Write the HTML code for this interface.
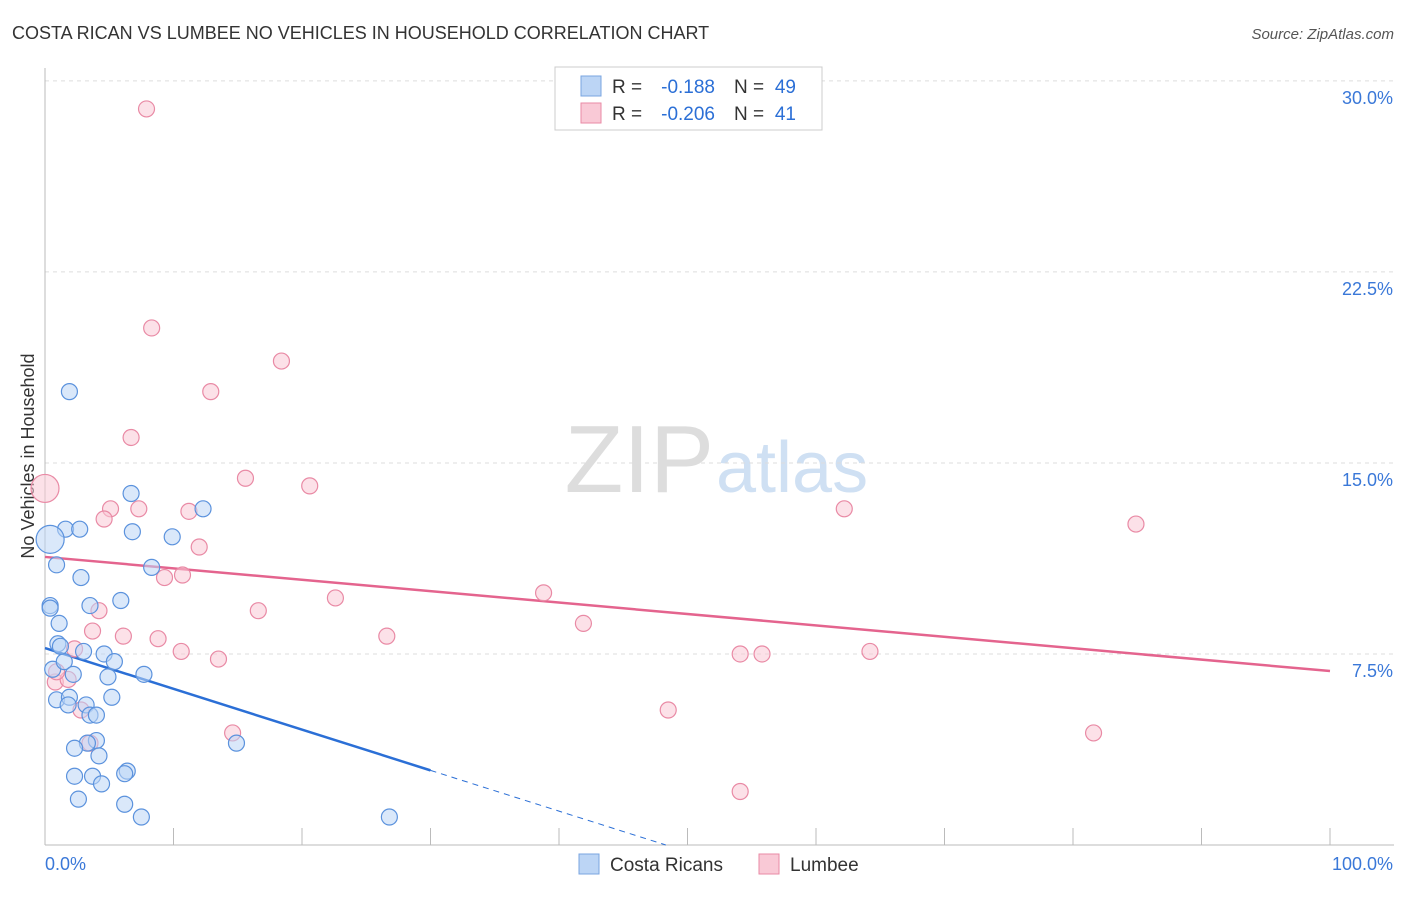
<!DOCTYPE html>
<html><head><meta charset="utf-8"><style>
body{margin:0;background:#fff;font-family:"Liberation Sans",sans-serif}
svg text{font-family:"Liberation Sans",sans-serif}
</style></head><body>
<svg id="chart" width="1406" height="892">
<text x="12" y="39" font-size="18" fill="#333">COSTA RICAN VS LUMBEE NO VEHICLES IN HOUSEHOLD CORRELATION CHART</text>
<text x="1394" y="39" font-size="15" fill="#555" font-style="italic" text-anchor="end">Source: ZipAtlas.com</text>
<text x="714" y="492" font-size="96" fill="#ddd" text-anchor="end" font-family="Liberation Serif">ZIP</text>
<text x="716" y="492" font-size="72" fill="#cfe0f3">atlas</text>
<text transform="translate(34,456) rotate(-90)" font-size="18" fill="#333" text-anchor="middle">No Vehicles in Household</text>
<g id="grid"></g><g id="axes"></g><g id="lines"></g><g id="pts"></g>
<g>
<rect x="555" y="67" width="267" height="63" fill="#fff" stroke="#ccc"/>
<rect x="581" y="76" width="20" height="20" fill="#bcd5f5" stroke="#7aa5e0"/>
<rect x="581" y="103" width="20" height="20" fill="#f9c9d6" stroke="#e98aa5"/>
<text x="612" y="93" font-size="19" fill="#333">R =</text>
<text x="715" y="93" font-size="19" fill="#2b6fd6" text-anchor="end">-0.188</text>
<text x="734" y="93" font-size="19" fill="#333">N =</text>
<text x="796" y="93" font-size="19" fill="#2b6fd6" text-anchor="end">49</text>
<text x="612" y="120" font-size="19" fill="#333">R =</text>
<text x="715" y="120" font-size="19" fill="#2b6fd6" text-anchor="end">-0.206</text>
<text x="734" y="120" font-size="19" fill="#333">N =</text>
<text x="796" y="120" font-size="19" fill="#2b6fd6" text-anchor="end">41</text>
</g>
<g>
<rect x="579" y="854" width="20" height="20" fill="#bcd5f5" stroke="#7aa5e0"/>
<text x="610" y="871" font-size="19" fill="#333">Costa Ricans</text>
<rect x="759" y="854" width="20" height="20" fill="#f9c9d6" stroke="#e98aa5"/>
<text x="790" y="871" font-size="19" fill="#333">Lumbee</text>
</g>
</svg>
<script>
const yTicks=[7.5,15,22.5,30];
const yTickLabels=["7.5%","15.0%","22.5%","30.0%"];
const xTickLabels=["0.0%","100.0%"];
const blueX=[1.9,6.7,12.3,1.6,2.7,6.8,9.9,0.4,0.9,2.8,8.3,0.4,0.4,3.5,5.9,1.1,1.0,0.6,1.5,3.0,4.6,5.4,1.2,4.9,2.2,7.7,5.2,0.9,1.9,3.2,1.8,3.5,4.0,4.0,3.3,14.9,2.3,4.2,6.4,6.2,3.7,2.3,4.4,2.6,6.2,7.5,26.8];
const blueY=[17.8,13.8,13.2,12.4,12.4,12.3,12.1,12.0,11.0,10.5,10.9,9.4,9.3,9.4,9.6,8.7,7.9,6.9,7.2,7.6,7.5,7.2,7.8,6.6,6.7,6.7,5.8,5.7,5.8,5.5,5.5,5.1,5.1,4.1,4.0,4.0,3.8,3.5,2.9,2.8,2.7,2.7,2.4,1.8,1.6,1.1,1.1];
const blueBig=[7];
const pinkX=[7.9,8.3,18.4,12.9,6.7,15.6,20.6,62.2,5.1,7.3,11.2,4.6,84.9,12.0,9.3,10.7,38.8,22.6,4.2,16.6,41.9,3.7,6.1,8.8,26.6,10.6,2.3,54.1,55.8,64.2,13.5,0.8,1.8,2.8,48.5,14.6,81.6,3.5,54.1,0.0,0.9];
const pinkY=[28.9,20.3,19.0,17.8,16.0,14.4,14.1,13.2,13.2,13.2,13.1,12.8,12.6,11.7,10.5,10.6,9.9,9.7,9.2,9.2,8.7,8.4,8.2,8.1,8.2,7.6,7.7,7.5,7.5,7.6,7.3,6.4,6.5,5.3,5.3,4.4,4.4,4.0,2.1,14.0,6.8];
const pinkBig=[39];
const blueTrend=[7.73,-0.16];
const pinkTrend=[11.31,-0.0448];
const NS="http://www.w3.org/2000/svg";
const sx=v=>45+v*12.85, sy=v=>845-v*25.47;
function mk(parent,tag,attrs){const e=document.createElementNS(NS,tag);for(const k in attrs)e.setAttribute(k,attrs[k]);document.getElementById(parent).appendChild(e);return e;}
yTicks.forEach((t,i)=>{
 const g=mk('grid','line',{x1:45,x2:1394,y1:sy(t),y2:sy(t),stroke:'#ddd','stroke-dasharray':'4,4'});
 
 
 const l=mk('grid','text',{x:1393,y:sy(t)+23,'font-size':18,fill:'#3a78d8','text-anchor':'end'});l.textContent=yTickLabels[i];
 
 
});
const ax=mk('axes','line',{x1:45,x2:45,y1:68,y2:845,stroke:'#bbb'});


const bx=mk('axes','line',{x1:45,x2:1394,y1:845,y2:845,stroke:'#bbb'});


for(let i=0;i<=10;i++){const t=mk('axes','line',{x1:sx(i*10),x2:sx(i*10),y1:828,y2:845,stroke:'#bbb'});
 
 }
[[0,'start',45],[100,'end',1393]].forEach((d,i)=>{const t=mk('axes','text',{x:d[2],y:870,'font-size':18,fill:'#3a78d8','text-anchor':d[1]});t.textContent=xTickLabels[i];
 
 });
function pts(X,Y,big,fill,stroke,name){X.forEach((x,i)=>{const c=mk('pts','circle',{cx:sx(x),cy:sy(Y[i]),r:big.includes(i)?14:8,fill:fill,'fill-opacity':0.55,stroke:stroke,'stroke-width':1.2});
 
 });}
pts(pinkX,pinkY,pinkBig,'#f9c9d6','#e98aa5','lumbee-point');
pts(blueX,blueY,blueBig,'#bcd5f5','#5b92dd','costa-rican-point');
const f=(tr,x)=>tr[0]+tr[1]*x;
const pl=mk('lines','line',{x1:sx(0),y1:sy(f(pinkTrend,0)),x2:sx(100),y2:sy(f(pinkTrend,100)),stroke:'#e4648e','stroke-width':2.5});


const bl=mk('lines','line',{x1:sx(0),y1:sy(f(blueTrend,0)),x2:sx(30),y2:sy(f(blueTrend,30)),stroke:'#2b6fd6','stroke-width':2.5});


const x0=-blueTrend[0]/blueTrend[1];
const bd=mk('lines','line',{x1:sx(30),y1:sy(f(blueTrend,30)),x2:sx(x0),y2:sy(0),stroke:'#2b6fd6','stroke-width':1,'stroke-dasharray':'6,5'});


</script>
</body></html>
